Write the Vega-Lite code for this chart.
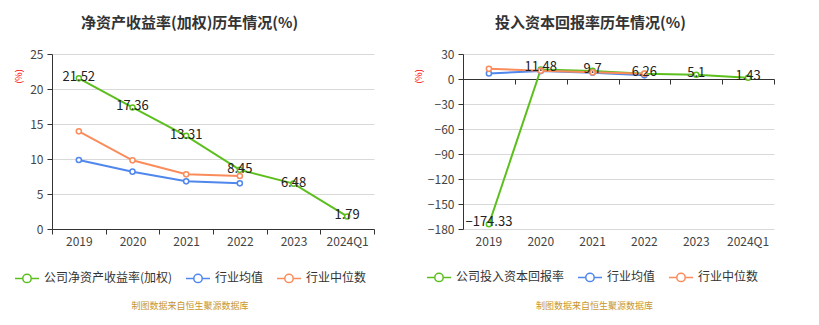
{
  "$schema": "https://vega.github.io/schema/vega-lite/v6.json",
  "padding": {"top": 16, "left": 14, "right": 10, "bottom": 0},
  "background": "white",
  "config": {
    "font": "Noto Sans CJK SC",
    "view": {"stroke": null},
    "axis": {"labelFontSize": 12, "labelColor": "#444", "domainColor": "#333", "tickColor": "#333", "gridColor": "#d9d9d9", "labelFont": "Noto Sans CJK SC"},
    "legend": {"labelFont": "Noto Sans CJK SC"},
    "concat": {"spacing": 39}
  },
  "datasets": {
    "roe": [
      {"year": "2019", "s": "公司净资产收益率(加权)", "v": 21.52},
      {"year": "2020", "s": "公司净资产收益率(加权)", "v": 17.36},
      {"year": "2021", "s": "公司净资产收益率(加权)", "v": 13.31},
      {"year": "2022", "s": "公司净资产收益率(加权)", "v": 8.45},
      {"year": "2023", "s": "公司净资产收益率(加权)", "v": 6.48},
      {"year": "2024Q1", "s": "公司净资产收益率(加权)", "v": 1.79},
      {"year": "2019", "s": "行业均值", "v": 9.86},
      {"year": "2020", "s": "行业均值", "v": 8.19},
      {"year": "2021", "s": "行业均值", "v": 6.81},
      {"year": "2022", "s": "行业均值", "v": 6.52},
      {"year": "2019", "s": "行业中位数", "v": 13.95},
      {"year": "2020", "s": "行业中位数", "v": 9.81},
      {"year": "2021", "s": "行业中位数", "v": 7.81},
      {"year": "2022", "s": "行业中位数", "v": 7.57}
    ],
    "roic": [
      {"year": "2019", "s": "公司投入资本回报率", "v": -174.33},
      {"year": "2020", "s": "公司投入资本回报率", "v": 11.48},
      {"year": "2021", "s": "公司投入资本回报率", "v": 9.7},
      {"year": "2022", "s": "公司投入资本回报率", "v": 6.26},
      {"year": "2023", "s": "公司投入资本回报率", "v": 5.1},
      {"year": "2024Q1", "s": "公司投入资本回报率", "v": 1.43},
      {"year": "2019", "s": "行业均值", "v": 6.6},
      {"year": "2020", "s": "行业均值", "v": 9.5},
      {"year": "2021", "s": "行业均值", "v": 7.6},
      {"year": "2022", "s": "行业均值", "v": 4.4},
      {"year": "2019", "s": "行业中位数", "v": 12.2},
      {"year": "2020", "s": "行业中位数", "v": 10.0},
      {"year": "2021", "s": "行业中位数", "v": 8.0},
      {"year": "2022", "s": "行业中位数", "v": 6.4}
    ]
  },
  "resolve": {"scale": {"color": "independent"}, "legend": {"color": "independent"}},
  "hconcat": [
    {
      "title": {"text": "净资产收益率(加权)历年情况(%)", "fontSize": 15, "fontWeight": "bold", "color": "#333", "anchor": "middle", "offset": 17, "dx": -5},
      "vconcat": [
        {
          "title": {"text": "制图数据来自恒生聚源数据库", "orient": "bottom", "fontSize": 9, "fontWeight": "normal", "color": "#c8962d", "offset": 55, "dx": -23},
          "width": 322,
          "height": 175,
          "data": {"name": "roe"},
          "encoding": {
            "x": {"field": "year", "type": "nominal", "sort": null,
              "scale": {"type": "band", "paddingInner": 0, "paddingOuter": 0},
              "axis": {"title": null, "labelAngle": 0, "tickBand": "extent", "tickSize": 5, "labelPadding": 2}},
            "y": {"field": "v", "type": "quantitative",
              "scale": {"domain": [0, 25], "nice": false},
              "axis": {"values": [0, 5, 10, 15, 20, 25], "title": "(%)", "titleColor": "red", "titleFontSize": 9, "titleFontWeight": "normal", "titleY": 22, "titleAlign": "center", "titlePadding": 6, "tickSize": 5, "labelPadding": 4, "grid": true}}
          },
          "layer": [
            {
              "mark": {"type": "line", "strokeWidth": 2},
              "encoding": {
                "color": {"field": "s", "type": "nominal",
                  "scale": {"domain": ["公司净资产收益率(加权)", "行业均值", "行业中位数"], "range": ["#5cbf1e", "#5087ec", "#fa8c5c"]},
                  "legend": {"orient": "none", "legendX": -36, "legendY": 213, "direction": "horizontal", "title": null,
                    "symbolType": "M-1.2,0L-0.42,0M0.42,0L1.2,0M0.42,0A0.42,0.42,0,1,1,-0.42,0A0.42,0.42,0,1,1,0.42,0",
                    "symbolSize": 400, "symbolStrokeWidth": 1.5, "symbolFillColor": "white", "labelFontSize": 12, "labelColor": "#333", "columnPadding": 10, "labelOffset": 6}}
              }
            },
            {
              "mark": {"type": "point", "filled": false, "fill": "white", "size": 26, "strokeWidth": 1.5, "opacity": 1},
              "encoding": {"color": {"field": "s", "type": "nominal"}}
            },
            {
              "transform": [{"filter": "datum.s === '公司净资产收益率(加权)'"}],
              "mark": {"type": "text", "fontSize": 13, "color": "#222", "baseline": "middle", "dy": -1},
              "encoding": {"text": {"field": "v", "type": "quantitative"}}
            }
          ]
        }
      ]
    },
    {
      "title": {"text": "投入资本回报率历年情况(%)", "fontSize": 15, "fontWeight": "bold", "color": "#333", "anchor": "middle", "offset": 17, "dx": -4},
      "vconcat": [
        {
          "title": {"text": "制图数据来自恒生聚源数据库", "orient": "bottom", "fontSize": 9, "fontWeight": "normal", "color": "#c8962d", "offset": 55, "dx": -24},
          "width": 311,
          "height": 175,
          "data": {"name": "roic"},
          "encoding": {
            "y": {"field": "v", "type": "quantitative",
              "scale": {"domain": [-180, 30], "nice": false},
              "axis": {"values": [-180, -150, -120, -90, -60, -30, 0, 30], "title": "(%)", "titleColor": "red", "titleFontSize": 9, "titleFontWeight": "normal", "titleY": 22, "titleAlign": "center", "titlePadding": 4, "tickSize": 5, "labelPadding": 4, "grid": true}}
          },
          "resolve": {"axis": {"x": "independent"}},
          "layer": [
            {
              "mark": {"type": "line", "strokeWidth": 2},
              "encoding": {
                "x": {"field": "year", "type": "nominal", "sort": null,
                  "scale": {"type": "band", "paddingInner": 0, "paddingOuter": 0},
                  "axis": {"title": null, "labelAngle": 0, "domain": false, "ticks": false, "labelPadding": 7}},
                "color": {"field": "s", "type": "nominal",
                  "scale": {"domain": ["公司投入资本回报率", "行业均值", "行业中位数"], "range": ["#5cbf1e", "#5087ec", "#fa8c5c"]},
                  "legend": {"orient": "none", "legendX": -35, "legendY": 212, "direction": "horizontal", "title": null,
                    "symbolType": "M-1.2,0L-0.42,0M0.42,0L1.2,0M0.42,0A0.42,0.42,0,1,1,-0.42,0A0.42,0.42,0,1,1,0.42,0",
                    "symbolSize": 400, "symbolStrokeWidth": 1.5, "symbolFillColor": "white", "labelFontSize": 12, "labelColor": "#333", "columnPadding": 10, "labelOffset": 6}}
              }
            },
            {
              "mark": {"type": "point", "filled": false, "fill": "white", "size": 26, "strokeWidth": 1.5, "opacity": 1},
              "encoding": {
                "x": {"field": "year", "type": "nominal", "sort": null,
                  "scale": {"type": "band", "paddingInner": 0, "paddingOuter": 0},
                  "axis": {"title": null, "orient": "top", "labels": false, "domain": true, "ticks": true, "tickBand": "extent", "tickSize": -5, "offset": -25, "grid": false}},
                "color": {"field": "s", "type": "nominal"}
              }
            },
            {
              "transform": [{"filter": "datum.s === '公司投入资本回报率'"}],
              "mark": {"type": "text", "fontSize": 13, "color": "#222", "baseline": "middle", "dy": -2},
              "encoding": {
                "x": {"field": "year", "type": "nominal", "sort": null, "axis": null},
                "text": {"field": "v", "type": "quantitative"}
              }
            }
          ]
        }
      ]
    }
  ]
}
